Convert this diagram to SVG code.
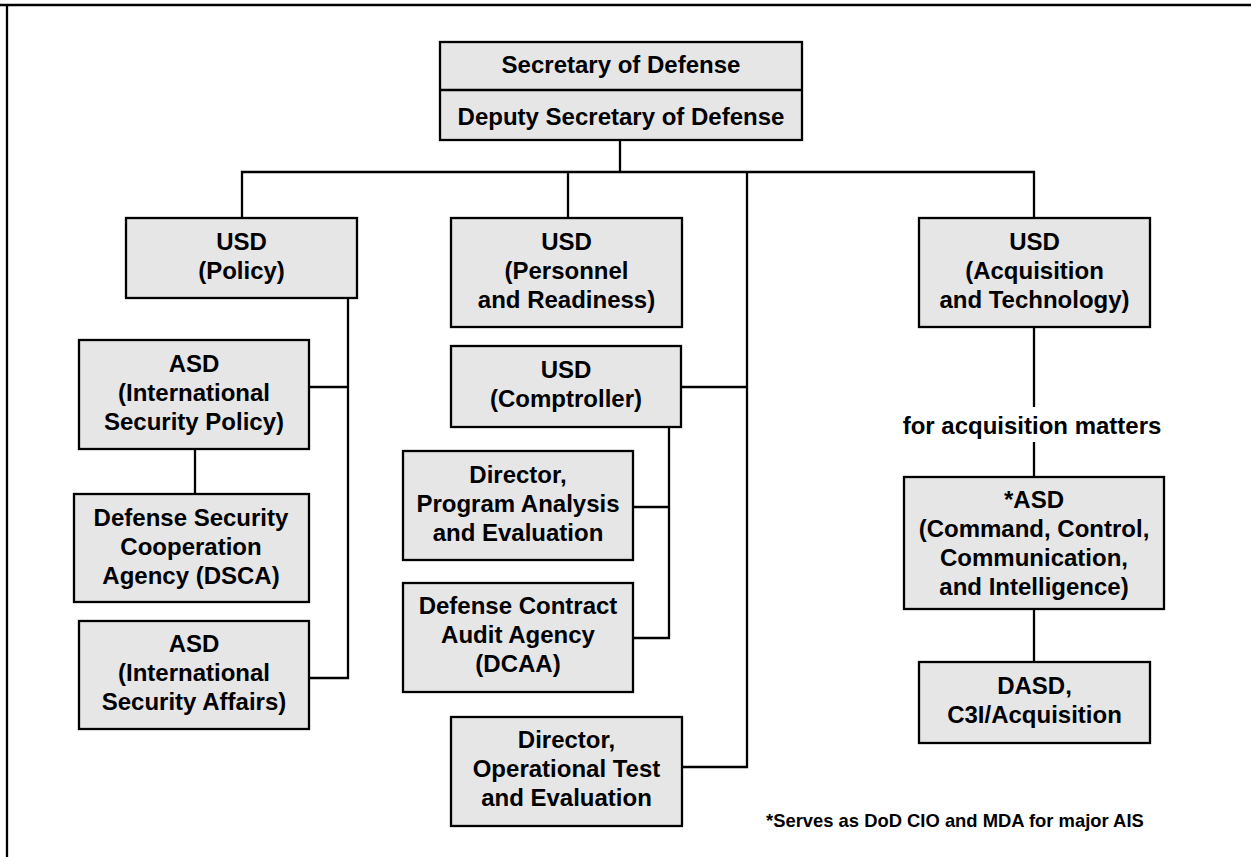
<svg xmlns="http://www.w3.org/2000/svg" width="1251" height="857" viewBox="0 0 1251 857">
<style>
.box{fill:#e6e6e6;stroke:#000;stroke-width:2.3}
.ln{fill:none;stroke:#000;stroke-width:2.3}
text{font-family:"Liberation Sans",Arial,Helvetica,sans-serif;font-weight:bold;font-size:24px;fill:#000;text-anchor:middle}
.note{font-size:18.4px}
</style>
<rect width="1251" height="857" fill="#fff"/>
<g id="frame">
<line class="ln" x1="0" y1="5" x2="1251" y2="5" stroke-width="2.6"/>
<line class="ln" x1="7" y1="4" x2="7" y2="857" stroke-width="2.6"/>
</g>
<g id="connectors">
<polyline class="ln" points="620,140 620,172"/>
<polyline class="ln" points="242,218 242,172 1034,172 1034,218"/>
<polyline class="ln" points="568,172 568,218"/>
<polyline class="ln" points="747,172 747,767 682,767"/>
<polyline class="ln" points="681,387 747,387"/>
<polyline class="ln" points="348,298 348,678 309,678"/>
<polyline class="ln" points="309,387 348,387"/>
<polyline class="ln" points="195,449 195,494"/>
<polyline class="ln" points="669,427 669,638 633,638"/>
<polyline class="ln" points="633,507 669,507"/>
<polyline class="ln" points="1034,327 1034,407"/>
<polyline class="ln" points="1034,442 1034,477"/>
<polyline class="ln" points="1034,609 1034,662"/>
</g>
<g id="secdef">
<rect class="box" x="440" y="42" width="362" height="98"/>
<line class="ln" x1="440" y1="90" x2="802" y2="90"/>
<text x="621" y="73">Secretary of Defense</text>
<text x="621" y="125">Deputy Secretary of Defense</text>
</g>
<g id="usd-policy">
<rect class="box" x="126" y="218" width="231" height="80"/>
<text x="241.5" y="250">USD</text>
<text x="241.5" y="279">(Policy)</text>
</g>
<g id="asd-isp">
<rect class="box" x="79" y="340" width="230" height="109"/>
<text x="194" y="372">ASD</text>
<text x="194" y="401">(International</text>
<text x="194" y="430">Security Policy)</text>
</g>
<g id="dsca">
<rect class="box" x="74" y="494" width="235" height="108"/>
<text x="191" y="526">Defense Security</text>
<text x="191" y="555">Cooperation</text>
<text x="191" y="584">Agency (DSCA)</text>
</g>
<g id="asd-isa">
<rect class="box" x="79" y="621" width="230" height="108"/>
<text x="194" y="652">ASD</text>
<text x="194" y="681">(International</text>
<text x="194" y="710">Security Affairs)</text>
</g>
<g id="usd-pr">
<rect class="box" x="451" y="218" width="231" height="109"/>
<text x="566.5" y="250">USD</text>
<text x="566.5" y="279">(Personnel</text>
<text x="566.5" y="308">and Readiness)</text>
</g>
<g id="usd-comptroller">
<rect class="box" x="451" y="346" width="230" height="81"/>
<text x="566" y="378">USD</text>
<text x="566" y="407">(Comptroller)</text>
</g>
<g id="dir-pae">
<rect class="box" x="403" y="451" width="230" height="109"/>
<text x="518" y="483">Director,</text>
<text x="518" y="512">Program Analysis</text>
<text x="518" y="541">and Evaluation</text>
</g>
<g id="dcaa">
<rect class="box" x="403" y="583" width="230" height="109"/>
<text x="518" y="614">Defense Contract</text>
<text x="518" y="643">Audit Agency</text>
<text x="518" y="672">(DCAA)</text>
</g>
<g id="dir-ote">
<rect class="box" x="451" y="717" width="231" height="109"/>
<text x="566.5" y="748">Director,</text>
<text x="566.5" y="777">Operational Test</text>
<text x="566.5" y="806">and Evaluation</text>
</g>
<g id="usd-at">
<rect class="box" x="919" y="218" width="231" height="109"/>
<text x="1034.5" y="250">USD</text>
<text x="1034.5" y="279">(Acquisition</text>
<text x="1034.5" y="308">and Technology)</text>
</g>
<g id="label-acq">
<text x="1032" y="434">for acquisition matters</text>
</g>
<g id="asd-c3i">
<rect class="box" x="904" y="477" width="260" height="132"/>
<text x="1034" y="508">*ASD</text>
<text x="1034" y="537">(Command, Control,</text>
<text x="1034" y="566">Communication,</text>
<text x="1034" y="595">and Intelligence)</text>
</g>
<g id="dasd">
<rect class="box" x="919" y="662" width="231" height="81"/>
<text x="1034.5" y="694">DASD,</text>
<text x="1034.5" y="723">C3I/Acquisition</text>
</g>
<g id="footnote">
<text class="note" x="766" y="827" style="text-anchor:start">*Serves as DoD CIO and MDA for major AIS</text>
</g>
</svg>
